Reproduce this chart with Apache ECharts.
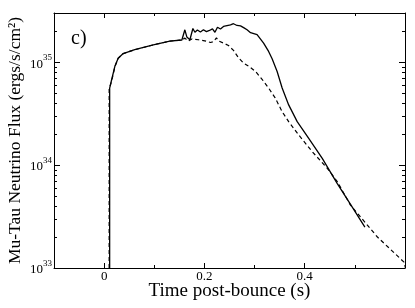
<!DOCTYPE html>
<html>
<head>
<meta charset="utf-8">
<script src="https://cdn.jsdelivr.net/npm/echarts@6/dist/echarts.min.js"></script>
<style>html,body{margin:0;padding:0;background:#fff}#c{width:415px;height:308px}</style>
</head>
<body>
<div id="c"></div>
<script>
// Solid curve
const solidT = [0.011, 0.011, 0.0148, 0.0214, 0.028, 0.038, 0.061, 0.098, 0.131, 0.155, 0.161, 0.165, 0.171, 0.177, 0.181, 0.186, 0.192, 0.198, 0.204, 0.21, 0.216, 0.221, 0.226, 0.232, 0.238, 0.245, 0.252, 0.258, 0.265, 0.272, 0.279, 0.285, 0.292, 0.305, 0.318, 0.328, 0.335, 0.345, 0.355, 0.368, 0.385, 0.408, 0.435, 0.465, 0.492, 0.52];
const solidFlux = [1e33, 5.6e34, 6.7e34, 9.1e34, 1.09e35, 1.21e35, 1.32e35, 1.47e35, 1.6e35, 1.64e35, 2.06e35, 1.75e35, 1.65e35, 2.12e35, 1.95e35, 2.05e35, 1.96e35, 2.06e35, 1.98e35, 2.03e35, 2.1e35, 1.95e35, 2.18e35, 2.1e35, 2.22e35, 2.26e35, 2.3e35, 2.36e35, 2.27e35, 2.25e35, 2.15e35, 2.06e35, 1.93e35, 1.85e35, 1.53e35, 1.27e35, 1.08e35, 8.1e34, 5.6e34, 3.84e34, 2.64e34, 1.82e34, 1.16e34, 6.6e33, 4.1e33, 2.5e33];
// Dashed curve
const dashT = [0.010, 0.010, 0.0148, 0.0214, 0.028, 0.038, 0.061, 0.098, 0.131, 0.155, 0.161, 0.168, 0.175, 0.188, 0.198, 0.205, 0.212, 0.218, 0.224, 0.229, 0.238, 0.248, 0.258, 0.268, 0.278, 0.29, 0.302, 0.315, 0.328, 0.341, 0.355, 0.368, 0.388, 0.415, 0.445, 0.465, 0.491, 0.545, 0.598, 0.601];
const dashFlux = [1e33, 5.5e34, 6.5e34, 9.0e34, 1.09e35, 1.21e35, 1.32e35, 1.47e35, 1.6e35, 1.64e35, 1.71e35, 1.6e35, 1.68e35, 1.65e35, 1.62e35, 1.59e35, 1.55e35, 1.58e35, 1.72e35, 1.6e35, 1.53e35, 1.45e35, 1.3e35, 1.1e35, 9.8e34, 9.0e34, 8.1e34, 6.8e34, 5.6e34, 4.5e34, 3.3e34, 2.64e34, 1.96e34, 1.35e34, 9.3e33, 6.9e33, 4.1e33, 2.0e33, 1.14e33, 1.0e33];
// Ticks
const xMajorTicks = [0, 0.2, 0.4];
const xMinorTicks = [0.1, 0.3, 0.5];
const yMajorTicks = [1e33, 1e34, 1e35];
const yMinorTicks = [2e33,3e33,4e33,5e33,6e33,7e33,8e33,9e33,2e34,3e34,4e34,5e34,6e34,7e34,8e34,9e34,2e35];

const FONT = 'Liberation Serif';
const X_MIN = -0.1, X_MAX = 0.6, Y_MIN = 1e33, Y_MAX = 3e35;

function xAx(pos, ticks, len, showLine, labels, extra) {
  return Object.assign({
    type: 'value', position: pos, min: X_MIN, max: X_MAX,
    axisLine: {show: showLine, onZero: false, lineStyle: {color: '#000', width: 1}},
    axisTick: {show: true, inside: true, length: len, customValues: ticks, lineStyle: {color: '#000', width: 1}},
    axisLabel: labels ? {show: true, customValues: ticks, margin: 2, fontFamily: FONT, fontSize: 13, color: '#000',
      formatter: v => (v === 0 ? '0' : String(+v.toFixed(1)))} : {show: false},
    splitLine: {show: false}
  }, extra || {});
}
function yAx(pos, ticks, len, showLine, labels, extra) {
  return Object.assign({
    type: 'log', logBase: 10, position: pos, min: Y_MIN, max: Y_MAX,
    axisLine: {show: showLine, onZero: false, lineStyle: {color: '#000', width: 1}},
    axisTick: {show: true, inside: true, length: len, customValues: ticks, lineStyle: {color: '#000', width: 1}},
    axisLabel: labels ? {show: true, customValues: ticks, margin: 2, color: '#000',
      formatter: v => '{b|10}{s|' + Math.round(Math.log10(v)) + '}',
      rich: {b: {fontFamily: FONT, fontSize: 13, color: '#000', lineHeight: 17, verticalAlign: 'bottom'},
             s: {fontFamily: FONT, fontSize: 9, color: '#000', verticalAlign: 'top', lineHeight: 10}}} : {show: false},
    splitLine: {show: false}, minorSplitLine: {show: false}
  }, extra || {});
}

const chart = echarts.init(document.getElementById('c'), null, {renderer: 'canvas'});
chart.setOption({
  animation: false,
  backgroundColor: '#fff',
  grid: {left: 54, right: 10, top: 13, bottom: 40, containLabel: false, outerBoundsMode: 'none'},
  xAxis: [
    xAx('bottom', xMajorTicks, 5, true, true, {
      name: 'Time post-bounce (s)', nameLocation: 'middle', nameGap: 14, nameMoveOverlap: false,
      nameTextStyle: {fontFamily: FONT, fontSize: 19, color: '#000'}}),
    xAx('bottom', xMinorTicks, 3, false, false),
    xAx('top', xMajorTicks, 5, true, false),
    xAx('top', xMinorTicks, 3, false, false)
  ],
  yAxis: [
    yAx('left', yMajorTicks, 6, true, true, {
      name: 'Mu-Tau Neutrino Flux (ergs/s/cm\u00B2)', nameLocation: 'middle', nameGap: 30, nameRotate: 90,
      nameMoveOverlap: false,
      nameTextStyle: {fontFamily: FONT, fontSize: 17.5, color: '#000'}}),
    yAx('left', yMinorTicks, 3, false, false),
    yAx('right', yMajorTicks, 6, true, false),
    yAx('right', yMinorTicks, 3, false, false)
  ],
  graphic: [{type: 'text', left: 71, top: 29, style: {text: 'c)', fontFamily: FONT, fontSize: 20, fill: '#000'}}],
  series: [
    {type: 'line', name: 'solid', xAxisIndex: 0, yAxisIndex: 0, showSymbol: false, symbol: 'none', clip: true,
     data: solidT.map((t, i) => [t, solidFlux[i]]),
     lineStyle: {color: '#000', width: 1.3, type: 'solid'}},
    {type: 'line', name: 'dashed', xAxisIndex: 0, yAxisIndex: 0, showSymbol: false, symbol: 'none', clip: true,
     data: dashT.map((t, i) => [t, dashFlux[i]]),
     lineStyle: {color: '#000', width: 1.2, type: [4, 3]}}
  ]
});
</script>
</body>
</html>
